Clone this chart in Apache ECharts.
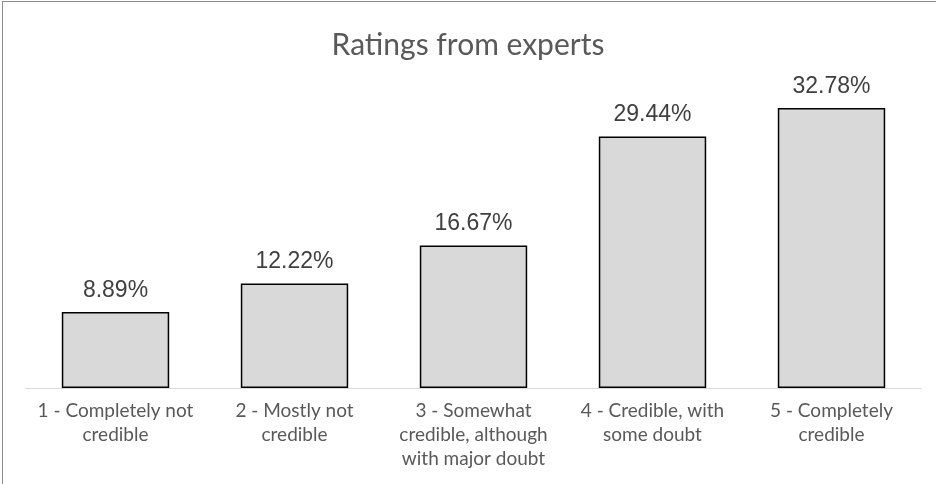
<!DOCTYPE html>
<html><head><meta charset="utf-8">
<script src="https://cdn.jsdelivr.net/npm/echarts@6/dist/echarts.min.js"></script>
<style>
html,body{margin:0;padding:0;background:#fff;}
#wrap{position:relative;width:936px;height:484px;overflow:hidden;}
#c{position:absolute;left:0;top:0;width:936px;height:484px;}
#frame{position:absolute;left:2px;top:1px;width:960px;height:520px;border:1px solid #8c8c8c;box-sizing:border-box;pointer-events:none;}
</style></head>
<body><div id="wrap"><div id="c"></div><div id="frame"></div></div>
<script>
const titleText = "Ratings from experts";
const categories = ["1 - Completely not\ncredible", "2 - Mostly not\ncredible", "3 - Somewhat\ncredible, although\nwith major doubt", "4 - Credible, with\nsome doubt", "5 - Completely\ncredible"];
const values = [8.89, 12.22, 16.67, 29.44, 32.78];

const chart = echarts.init(document.getElementById('c'), null, {renderer:'canvas'});
chart.setOption({
  animation:false,
  backgroundColor:'#fff',
  title:{text:titleText,left:'center',top:25,textStyle:{fontFamily:'Lato',fontWeight:'normal',fontSize:30,color:'#595959'}},
  grid:{left:26,right:15,top:89,bottom:96,containLabel:false},
  xAxis:{type:'category',data:categories,
    axisLine:{lineStyle:{color:'#d9d9d9',width:1}},axisTick:{show:false},
    axisLabel:{interval:0,margin:11,fontFamily:'Lato',fontSize:19,lineHeight:24,color:'#595959'}},
  yAxis:{type:'value',min:0,max:35,show:false,splitLine:{show:false}},
  series:[{type:'bar',data:values,barCategoryGap:'40%',
    itemStyle:{color:'#d9d9d9',borderColor:'#000',borderWidth:1.5},
    label:{show:true,position:'top',distance:10,formatter:p=>p.value.toFixed(2)+'%',fontFamily:'Liberation Sans',fontSize:23,color:'#404040'}}]
});
</script></body></html>
